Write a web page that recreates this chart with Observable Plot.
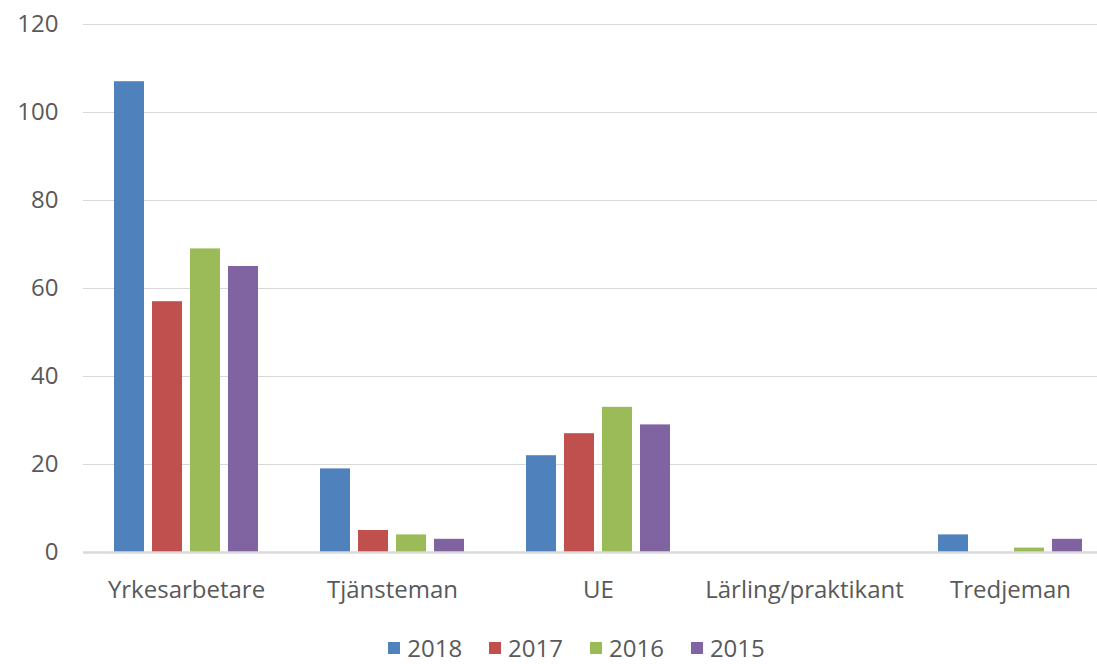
<!DOCTYPE html>
<html>
<head>
<meta charset="utf-8">
<script src="https://cdn.jsdelivr.net/npm/d3@7"></script>
<script src="https://cdn.jsdelivr.net/npm/@observablehq/plot@0.6"></script>
<style>
  html, body { margin: 0; padding: 0; background: #fff; overflow: hidden; width: 1097px; height: 664px; }
  #chart { position: relative; }
  .legend { display: flex; justify-content: center; gap: 27px; font-family: "Open Sans", sans-serif; font-size: 24px; color: #595959; margin-left: 56px; margin-top: 14px; line-height: 28px; }
  .legend .item { display: flex; align-items: center; gap: 7px; }
  .legend .sw { width: 12px; height: 12px; display: inline-block; }
</style>
</head>
<body>
<div id="chart"></div>
<script>
const categories = ["Yrkesarbetare", "Tjänsteman", "UE", "Lärling/praktikant", "Tredjeman"];
const years = ["2018", "2017", "2016", "2015"];
const colors = ["#4F81BD", "#C0504D", "#9BBB59", "#8064A2"];
const v2018 = [107, 19, 22, 0, 4];
const v2017 = [57, 5, 27, 0, 0];
const v2016 = [69, 4, 33, 0, 1];
const v2015 = [65, 3, 29, 0, 3];
const yTicks = [0, 20, 40, 60, 80, 100, 120];

const series = [v2018, v2017, v2016, v2015];
const data = [];
categories.forEach((c, i) => {
  years.forEach((y, j) => data.push({category: c, year: y, value: series[j][i]}));
});

const chart = Plot.plot({
  width: 1115,
  height: 620,
  marginLeft: 81,
  marginRight: 0,
  marginTop: 24,
  marginBottom: 68,
  style: "font-family: 'Open Sans', sans-serif; font-size: 24px; color: #595959; max-width: none; background: #fff;",
  fx: {domain: categories, padding: 0, label: null, axis: "bottom", tickSize: 0, tickPadding: 28},
  x: {domain: years, paddingInner: 0.2, paddingOuter: 0.8, axis: null},
  y: {domain: [0, 120], ticks: yTicks, label: null, tickSize: 0, tickPadding: 25},
  color: {domain: years, range: colors},
  marks: [
    Plot.ruleY(yTicks.filter(d => d > 0), {stroke: "#D9D9D9", strokeWidth: 1.2}),
    Plot.barY(data, {fx: "category", x: "year", y: "value", fill: "year"}),
    Plot.ruleY([0], {stroke: "#D9D9D9", strokeWidth: 2.5})
  ]
});
document.getElementById("chart").appendChild(chart);

const legend = document.createElement("div");
legend.className = "legend";
years.forEach((y, i) => {
  const it = document.createElement("span");
  it.className = "item";
  it.innerHTML = `<span class="sw" style="background:${colors[i]}"></span><span>${y}</span>`;
  legend.appendChild(it);
});
document.body.appendChild(legend);
</script>
</body>
</html>
